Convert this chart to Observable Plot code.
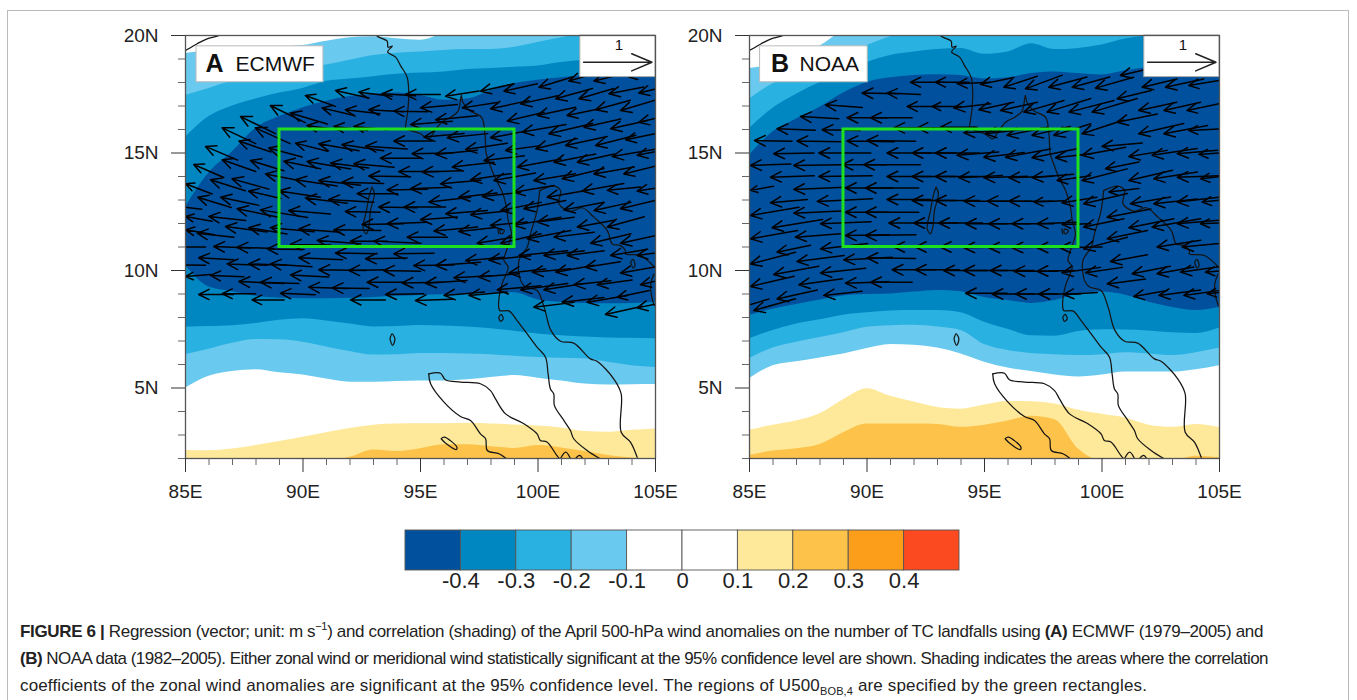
<!DOCTYPE html>
<html><head><meta charset="utf-8">
<script src="https://cdn.jsdelivr.net/npm/d3@7"></script>
<script src="https://cdn.jsdelivr.net/npm/@observablehq/plot@0.6"></script>
<style>
html,body{margin:0;padding:0;background:#fff;width:1357px;height:700px;overflow:hidden;font-family:"Liberation Sans",Arial,sans-serif}
#page{position:relative;width:1357px;height:700px}
#card{position:absolute;left:7px;top:10px;width:1342px;height:700px;border:1px solid #bbb;box-sizing:border-box}
.p{position:absolute}
.p svg{display:block;background:transparent}
.cap{position:absolute;left:20px;white-space:nowrap;font-size:17px;line-height:20px;color:#222}
.cap sup,.cap sub{font-size:11px;line-height:0}
</style></head><body><div id="page"><div id="card"></div>
<div id="pa" class="p" style="left:120px;top:25px"></div>
<div id="pb" class="p" style="left:684px;top:25px"></div>
<div id="cb" class="p" style="left:0;top:520px"></div>
<div class="cap" id="c1" style="top:622px"><b>FIGURE 6 |</b> Regression (vector; unit: m s<sup>−1</sup>) and correlation (shading) of the April 500-hPa wind anomalies on the number of TC landfalls using <b>(A)</b> ECMWF (1979–2005) and</div>
<div class="cap" id="c2" style="top:649px"><b>(B)</b> NOAA data (1982–2005). Either zonal wind or meridional wind statistically significant at the 95% confidence level are shown. Shading indicates the areas where the correlation</div>
<div class="cap" id="c3" style="top:676px">coefficients of the zonal wind anomalies are significant at the 95% confidence level. The regions of U500<sub>BOB,4</sub> are specified by the green rectangles.</div>
</div>
<script>
// ---- data ----
const lons = [85,86,87,88,89,90,91,92,93,94,95,96,97,98,99,100,101,102,103,104,105];
const boundsTicks = [-0.4,-0.3,-0.2,-0.1,0,0.1,0.2,0.3,0.4];
const barColors = ["#00509d","#0087c1","#29b1e1","#69c9ee","#ffffff","#ffffff","#fee899","#fdc24a","#fd9e1a","#fb4a20"];

// Panel A contour latitudes per longitude
const A_m1_up = [19.23,19.35,19.4,19.45,19.5,19.57,19.76,19.9,19.95,19.86,19.8,20.1,20.5,20.5,20.5,20.5,20.5,20.5,20.5,20.5,20.5];
const A_m1_lo = [5.0,5.5,5.7,5.78,5.65,5.55,5.38,5.25,5.25,5.28,5.3,5.3,5.35,5.45,5.53,5.42,5.3,5.17,5.13,5.14,5.15];
const A_m2_up = [17.45,17.75,18.05,18.2,18.4,18.6,18.75,18.95,19.15,19.25,19.3,19.36,19.4,19.4,19.5,19.7,19.9,20.1,20.3,20.3,20.3];
const A_m2_lo = [6.43,6.65,6.9,7.06,7.05,6.95,6.75,6.55,6.4,6.42,6.47,6.47,6.45,6.42,6.35,6.3,6.27,6.25,6.1,5.95,5.87];
const A_m3_up = [15.67,16.55,17.0,17.3,17.55,17.75,18.05,18.15,18.25,18.35,18.4,18.45,18.55,18.6,18.65,18.7,18.85,18.95,19,19,19];
const A_m3_lo = [7.59,7.62,7.65,7.75,7.88,7.95,7.85,7.72,7.6,7.62,7.66,7.64,7.6,7.52,7.42,7.3,7.22,7.17,7.13,7.12,7.1];
const A_m4_up = [12.7,14.15,15.05,16.05,16.55,16.93,17.2,17.4,17.5,17.55,17.45,17.25,17.3,17.65,17.95,18.1,18.2,18.3,18.35,18.4,18.4];
const A_m4_lo = [10.21,9.3,9.1,8.9,8.82,8.8,8.8,8.82,8.85,8.9,8.94,8.97,9.0,9.03,9.05,8.75,8.65,8.6,8.58,8.6,8.65];
const A_p1_up = [2.34,2.33,2.4,2.55,2.72,2.9,3.1,3.28,3.42,3.47,3.48,3.48,3.5,3.47,3.43,3.38,3.3,3.15,3.12,3.2,3.26];
const A_p2_up = [1.9,1.9,1.9,1.9,1.9,1.9,1.9,2.05,2.36,2.3,2.42,2.58,2.58,2.5,2.43,2.55,2.45,2.3,2.13,2.02,1.95];

// Panel B contour latitudes per longitude
const B_m1_up = [18.6,18.75,19.1,19.55,20.2,20.5,20.5,20.5,20.5,20.5,20.5,20.5,20.5,20.5,20.5,20.5,20.5,20.5,20.5,20.5,20.5];
const B_m1_lo = [5.4,5.95,6.12,6.28,6.45,6.68,6.85,6.82,6.7,6.45,6.1,5.85,5.7,5.55,5.47,5.55,5.68,5.68,5.68,5.78,5.95];
const B_m2_up = [17.3,17.95,18.35,18.75,19.15,19.57,19.95,20.2,20.4,20.5,20.5,20.5,20.5,20.5,20.5,20.5,20.5,20.5,20.5,20.5,20.5];
const B_m2_lo = [6.26,6.7,6.95,7.15,7.35,7.58,7.65,7.67,7.6,7.45,6.85,6.6,6.47,6.42,6.38,6.42,6.5,6.45,6.38,6.5,6.7];
const B_m3_up = [16.04,16.9,17.5,18.0,18.4,18.85,19.15,19.3,19.4,19.45,19.2,19.3,19.65,19.4,19.45,19.6,19.85,20,20.2,20.3,20.3];
const B_m3_lo = [7.1,7.45,7.72,7.9,8.1,8.2,8.28,8.3,8.3,8.2,7.8,7.5,7.22,7.2,7.4,7.48,7.47,7.43,7.35,7.32,7.55];
const B_m4_up = [14.9,15.9,16.45,16.95,17.55,18.0,18.2,18.3,18.33,18.3,18.15,18.2,18.38,18.45,18.38,18.32,18.5,18.65,18.8,18.9,18.9];
const B_m4_lo = [8.09,8.35,8.55,8.75,8.92,8.98,9.0,9.08,9.15,9.1,8.85,8.72,8.6,8.72,9.0,9.08,8.95,8.65,8.43,8.3,8.43];
const B_p1_up = [3.2,3.42,3.6,3.9,4.5,4.97,4.65,4.4,4.17,4.1,4.28,4.43,4.42,4.32,4.05,3.88,3.72,3.42,3.33,3.45,3.32];
const B_p2_up = [2.13,2.32,2.42,2.6,3.1,3.47,3.47,3.47,3.45,3.33,3.42,3.6,3.8,3.65,2.4,1.9,1.9,1.9,1.9,2.1,2.03];

// Coastlines [lon, lat]
const coastIndia = [[84.9,19.3],[85,19.36],[85.5,19.65],[85.92,19.86],[86.35,19.97],[86.6,20.1]];
const coastMyanmar = [[93.1,20.1],[93.16,19.97],[93.58,19.76],[93.62,19.5],[93.8,19.55],[93.6,19.3],[93.94,19.08],[94.15,18.72],[94.43,18.23],[94.5,17.52],[94.46,16.81],[94.36,16.1],[94.36,16.03],[94.57,15.96],[95,15.82],[95.35,15.6],[95.57,15.89],[95.9,16.31],[96.28,16.52],[96.6,16.78],[96.74,17.45],[96.8,17.16],[97.1,16.8],[97.6,16.52],[97.74,15.82],[97.8,14.96],[97.94,14.54],[98.16,13.97],[98.45,13.4],[98.66,12.7],[98.73,12.13],[98.87,11.56],[98.66,10.85],[98.55,10.43],[98.73,10.15],[98.47,9.43],[98.33,8.72],[98.37,8.3],[98.76,8.28],[99.11,7.87],[99.54,7.3],[99.96,6.74],[100.32,6.31],[100.43,5.6],[100.53,4.96],[100.67,4.75],[100.7,4.25],[101.1,3.62],[101.38,3.19],[101.52,2.84],[102.09,2.34],[102.66,1.98]];
const coastGulfWest = [[100.07,13.4],[99.96,12.55],[99.68,11.56],[99.54,10.99],[99.19,10.43],[99.26,9.57],[99.47,9.3],[99.96,9.15],[100.26,8.44],[100.55,7.45],[100.96,6.99],[101.52,6.91],[102.23,6.24],[102.51,6.14],[103.23,5.38],[103.54,4.75],[103.54,3.12],[103.94,2.69],[104.22,2.05]];
const coastGulfNorth = [[100.07,13.4],[100.67,13.59],[100.96,13.4],[100.89,12.84],[101.38,12.52],[101.88,12.67],[102.38,12.27],[102.95,11.7],[103.16,11.13],[103.51,11.06],[103.72,10.85],[103.72,10.71],[104.36,10.64],[104.96,10.14]];
const coastSumatraN = [[95.35,5.6],[95.85,5.63],[96.06,5.35],[96.7,5.25],[97.55,5.18],[97.98,4.89],[98.19,4.54],[98.62,3.9],[99.4,3.48],[99.96,3.05],[100.1,2.77],[100.38,2.7],[100.8,2.13],[100.95,1.95]];
const coastSumatraS = [[95.35,5.6],[95.43,5.18],[96.0,4.4],[96.7,3.79],[97.13,3.62],[97.55,3.05],[97.77,2.84],[97.84,2.34],[98.34,2.2],[98.67,1.98]];
const coastRightEdge = [[104.94,9.85],[104.8,9.43],[104.84,8.87],[104.95,8.51]];
const isle1 = [[100.96,2.0],[101.18,2.27],[101.38,2.0]];
const isle2 = [[101.6,2.0],[101.77,2.13],[101.9,2.0]];
const isle3 = [[95.88,2.84],[96.01,2.91],[96.55,2.48],[96.52,2.38],[96.06,2.66],[95.88,2.84]];
const isle4 = [[93.7,7.09],[93.79,7.3],[93.91,7.09],[93.81,6.81],[93.7,7.09]];
const isle5 = [[98.33,8.01],[98.43,8.13],[98.52,7.94],[98.4,7.84],[98.33,8.01]];
const isle6 = [[103.94,10.35],[104.04,10.47],[104.13,10.21],[104.05,10.11],[103.94,10.35]];
const andaman = [[92.94,13.55],[93.04,13.26],[92.87,12.55],[92.8,11.84],[92.7,11.56],[92.56,11.77],[92.7,12.55],[92.84,13.26],[92.94,13.55]];
const isle7 = [[98.29,11.77],[98.33,11.56]];
const isle8 = [[98.4,11.77],[98.57,11.7],[98.47,11.56],[98.38,11.63],[98.4,11.77]];
const coasts = [coastIndia,coastMyanmar,coastGulfWest,coastGulfNorth,coastSumatraN,coastSumatraS,coastRightEdge,isle1,isle2,isle3,isle4,isle5,isle6,andaman,isle7,isle8];

// Wind: [tip lon, tip lat, u (m/s), v (m/s)]
const windA = [
[91.38,17.66,-.49,.11],[92.37,17.59,-.49,.06],[93.36,17.52,-.49,.03],[94.36,17.49,-.51,0],[90.10,17.45,-.44,.16],[88.61,17.02,-.51,.25],[89.46,16.70,-.54,.16],[90.81,16.92,-.47,.11],[91.80,16.84,-.51,.06],[92.80,16.84,-.51,.03],[93.86,16.78,-.50,.01],[87.34,16.55,-.51,.25],[87.97,16.07,-.51,.23],[90.17,16.17,-.49,.07],[91.31,16.13,-.49,.06],[92.16,16.13,-.49,.05],[86.56,16.07,-.49,.23],[87.27,15.51,-.47,.16],[88.54,15.21,-.49,.13],[89.68,15.42,-.47,.12],[90.67,15.39,-.59,.10],[91.66,15.36,-.61,.09],[92.66,15.29,-.61,.04],[93.86,15.51,-.56,0],
[85.85,15.28,-.47,.20],[86.56,14.71,-.49,.17],[87.76,14.68,-.49,.15],[89.18,14.65,-.54,.11],[90.17,14.64,-.64,.11],[91.17,14.57,-.56,.07],[92.16,14.54,-.59,.05],[93.29,14.78,-.59,0],[94.64,14.97,-.59,-.01],[85.35,14.51,-.44,.19],[86.06,13.86,-.51,.16],[86.98,13.90,-.54,.15],[88.40,14.11,-.51,.10],[89.68,13.86,-.61,.09],[90.67,13.83,-.61,.07],[91.66,13.76,-.61,.02],[92.80,14.02,-.61,.01],[94.07,14.21,-.59,0],
[85.0,13.69,-.39,.15],[85.52,13.12,-.49,.15],[86.49,13.12,-.56,.12],[87.69,13.38,-.47,.11],[88.97,13.38,-.61,.09],[90.10,13.09,-.61,.08],[91.09,13.02,-.66,.04],[92.30,13.27,-.59,0],[93.58,13.43,-.59,-.01],[94.57,13.48,-.59,-.02],[84.3,12.78,-.48,.06],[85.0,12.30,-.39,.07],[85.99,12.30,-.54,.06],[87.19,12.63,-.59,.12],[88.19,12.58,-.69,.11],[89.39,12.55,-.61,.05],[91.80,12.51,-.51,.01],[93.22,12.70,-.56,.01],[94.29,12.70,-.61,0],
[85.0,11.73,-.42,.07],[85.49,11.59,-.54,.06],[86.70,11.87,-.61,.08],[87.69,11.82,-.56,.09],[88.61,11.82,-.64,.06],[89.82,11.77,-.61,.05],[91.31,11.73,-.69,.01],[92.51,11.96,-.61,-.01],[93.58,11.99,-.59,-.02],[84.4,11.0,-.5,0],[86.20,11.02,-.54,.02],[87.19,10.99,-.54,.02],[88.47,10.92,-.54,.01],[89.46,11.11,-.59,.01],[90.60,11.28,-.64,.05],[92.02,11.25,-.54,0],[93.01,11.25,-.69,.03],[94.43,11.42,-.59,0],
[85.56,10.54,-.51,.03],[86.77,10.28,-.59,.02],[87.69,10.28,-.56,.02],[88.61,10.28,-.61,.04],[89.82,10.54,-.64,.03],[91.38,10.74,-.61,.01],[92.66,10.50,-.61,-.01],[93.86,10.71,-.59,-.01],[84.4,10.25,-.5,.01],[85.0,9.74,-.37,-.03],[86.06,9.79,-.49,.02],[87.27,9.53,-.66,.03],[88.19,9.50,-.56,.02],[89.46,9.81,-.56,.03],[90.67,10.03,-.69,.01],[91.95,10.0,-.56,-.01],[93.43,10.0,-.54,.01],[94.71,10.21,-.59,-.01],[85.56,8.98,-.51,0],[86.56,9.01,-.49,0],[89.04,9.03,-.51,.02],[90.24,9.29,-.56,.02],[91.24,9.26,-.54,.01],[92.73,9.50,-.56,0],[94.22,9.47,-.59,-.01],[87.83,8.75,-.47,0],[92.02,8.75,-.51,0],[93.51,8.98,-.56,-.01],[94.78,8.72,-.54,-.02],
[96.07,17.41,-.49,-.08],[97.56,17.63,-.49,-.11],[98.55,17.63,-.49,-.11],[100.04,17.80,-.49,-.15],[101.31,18.06,-.49,-.14],[102.38,18.06,-.49,-.12],[103.87,18.23,-.39,-.07],[95.0,16.92,-.54,-.05],[96.78,16.92,-.51,-.08],[97.98,16.88,-.56,-.12],[99.26,17.09,-.54,-.12],[100.75,17.31,-.54,-.15],[101.74,17.31,-.51,-.15],[103.02,17.52,-.51,-.10],[104.29,17.55,-.49,-.12],[95.64,16.41,-.61,-.06],[94.58,16.21,-.61,-.05],[98.69,16.36,-.54,-.13],[99.97,16.60,-.56,-.12],[101.24,16.60,-.49,-.10],[102.45,16.84,-.51,-.14],[103.51,16.81,-.51,-.15],[95.14,15.68,-.59,-.05],[96.14,15.65,-.59,-.06],[97.98,15.65,-.49,-.09],[99.33,15.89,-.64,-.11],[100.46,15.82,-.64,-.15],[101.95,16.10,-.54,-.12],[103.09,16.03,-.54,-.12],[104.29,16.31,-.49,-.11],
[95.64,14.94,-.61,-.06],[96.92,15.15,-.61,-.09],[98.62,15.11,-.51,-.07],[99.90,15.18,-.61,-.15],[101.17,15.32,-.61,-.13],[102.45,15.32,-.59,-.15],[103.73,15.56,-.49,-.10],[95.07,14.19,-.59,-.02],[96.35,14.40,-.61,-.07],[97.70,14.68,-.59,-.07],[99.12,14.40,-.64,-.12],[100.68,14.61,-.61,-.12],[101.67,14.61,-.54,-.12],[103.16,14.85,-.64,-.11],[104.22,14.90,-.49,-.10],[95.85,13.69,-.59,-.05],[97.13,13.86,-.59,-.09],[98.12,13.83,-.61,-.11],[99.82,13.83,-.61,-.10],[101.03,13.90,-.61,-.15],[102.38,14.11,-.59,-.10],[103.65,14.11,-.49,-.12],
[95.36,12.91,-.61,-.07],[96.63,13.12,-.56,-.06],[97.63,13.15,-.56,-.06],[98.97,13.33,-.59,-.10],[100.39,13.12,-.59,-.10],[101.88,13.38,-.61,-.11],[102.95,13.41,-.49,-.05],[104.22,13.38,-.49,-.08],[95.0,12.16,-.54,-.04],[96.07,12.41,-.61,-.05],[97.13,12.37,-.56,-.06],[98.41,12.55,-.59,-.12],[99.40,12.63,-.61,-.12],[101.10,12.58,-.59,-.11],[102.38,12.55,-.54,-.12],[103.51,12.63,-.51,-.12],[95.57,11.68,-.64,-.06],[96.63,11.66,-.54,-.06],[97.98,11.92,-.54,-.05],[98.97,11.92,-.69,-.12],[99.97,12.06,-.54,-.07],[101.67,11.85,-.54,-.10],[102.95,11.85,-.54,-.15],[97.41,11.16,-.54,-.09],[98.41,11.16,-.59,-.14],[99.54,11.35,-.64,-.12],[100.68,11.42,-.59,-.07],[102.24,11.16,-.59,-.14],[103.51,11.16,-.51,-.11],
[95.64,10.21,-.66,-.05],[96.92,10.42,-.56,-.05],[97.91,10.45,-.61,-.06],[99.19,10.64,-.71,-.07],[100.25,10.64,-.59,-.07],[101.24,10.64,-.54,-.07],[103.09,10.64,-.54,-.09],[104.22,10.64,-.49,-.07],[95.21,9.46,-.61,-.04],[96.42,9.69,-.54,-.03],[97.48,9.72,-.59,-.05],[98.76,9.89,-.54,-.06],[99.75,9.93,-.56,-.05],[100.75,9.93,-.56,-.10],[102.02,10.14,-.51,-.08],[103.51,9.89,-.51,-.09],[96.0,8.94,-.59,-.05],[97.06,8.94,-.56,-.05],[98.26,9.18,-.64,-.06],[99.26,9.18,-.69,-.09],[100.25,9.18,-.59,-.09],[101.53,9.39,-.54,-.06],[102.52,9.39,-.51,-.07],[104.36,9.39,-.49,-.12],[99.82,8.44,-.59,-.07],[101.03,8.65,-.61,-.07],[102.09,8.65,-.59,-.10],[103.37,8.86,-.47,-.10],[102.87,8.13,-.54,-.12],[104.22,8.41,-.49,-.10]];

const windB = [
[91.85,18.01,-.49,0],[92.91,18.01,-.49,0],[89.79,17.55,-.54,.01],[90.85,17.55,-.49,.02],[88.23,17.05,-.54,.04],[91.71,16.98,-.49,0],[92.77,16.98,-.42,0],[87.17,16.55,-.56,.03],[89.15,16.50,-.59,0],[90.15,16.50,-.61,0],[86.17,16.03,-.56,.02],[88.09,15.99,-.56,.01],[91.14,16.07,-.54,0],[92.13,16.07,-.54,0],[93.12,16.10,-.54,0],[85.21,15.53,-.55,.01],[87.02,15.51,-.64,.01],[89.15,15.51,-.69,.01],[90.0,15.53,-.71,.01],
[86.03,14.97,-.59,-.01],[87.95,15.0,-.76,0],[90.85,15.0,-.64,0],[91.92,15.0,-.64,0],[92.91,15.0,-.64,0],[85.04,14.47,-.59,-.02],[86.88,14.47,-.69,-.01],[88.94,14.50,-.64,0],[89.86,14.50,-.83,0],[85.89,13.97,-.64,-.02],[87.95,14.0,-.78,-.01],[90.85,14.0,-.64,0],[91.92,14.0,-.64,0],[92.91,14.0,-.64,0],[85.04,13.41,-.34,-.06],[86.88,13.45,-.74,-.03],[89.08,13.51,-.69,0],[89.93,13.51,-.78,0],[85.89,12.88,-.54,-.05],[87.88,12.94,-.81,-.04],[90.85,13.02,-.64,0],[91.92,12.98,-.64,0],[92.91,12.98,-.64,0],
[85.04,12.34,-.71,-.12],[86.88,12.44,-.69,-.03],[89.08,12.48,-.64,0],[89.93,12.48,-.78,0],[85.96,11.82,-.74,-.12],[88.02,11.99,-.74,-.03],[90.93,12.02,-.64,0],[91.99,12.02,-.64,0],[93.05,12.02,-.64,0],[85.04,11.35,-.69,-.12],[86.95,11.42,-.66,-.05],[89.08,11.49,-.64,-.01],[89.93,11.49,-.74,-.01],[88.02,10.92,-.69,-.08],[91.14,11.0,-.64,0],[92.06,11.0,-.64,0],[93.12,11.0,-.64,0],
[85.04,10.28,-.66,-.17],[86.17,10.78,-.49,-.10],[87.02,10.38,-.69,-.09],[89.01,10.45,-.71,-.04],[90.0,10.54,-.71,.01],[91.07,10.03,-.64,0],[92.06,10.03,-.64,0],[93.26,10.0,-.64,0],[86.03,9.83,-.66,-.12],[85.04,9.32,-.64,-.15],[88.02,9.89,-.66,-.07],[87.10,9.39,-.64,-.09],[89.08,9.46,-.64,-.02],[90.15,9.50,-.61,0],[88.16,8.94,-.56,-.06],[86.17,8.79,-.59,-.13],[84.37,8.35,-.5,-.15],[85.18,8.30,-.61,-.17],
[93.83,17.95,-.49,-.02],[94.83,17.92,-.49,-.10],[95.82,17.80,-.49,-.16],[96.74,17.73,-.54,-.20],[97.73,17.80,-.56,-.15],[98.73,17.80,-.55,-.15],[99.72,17.76,-.56,-.16],[100.78,18.30,-.51,-.12],[101.71,17.80,-.51,-.12],[102.70,17.80,-.56,-.12],[103.69,17.87,-.47,-.08],
[93.69,16.92,-.54,-.06],[94.76,16.84,-.51,-.11],[95.68,16.81,-.54,-.12],[96.67,16.74,-.59,-.17],[97.66,16.74,-.64,-.20],[98.59,16.74,-.66,-.17],[99.58,16.74,-.66,-.20],[100.64,17.31,-.5,-.12],[101.56,16.81,-.56,-.12],[102.63,16.81,-.54,-.12],[103.62,16.81,-.47,-.10],
[94.12,15.86,-.54,-.03],[95.04,15.82,-.61,-.07],[95.96,15.75,-.59,-.12],[97.02,15.75,-.56,-.13],[97.95,15.75,-.54,-.17],[99.15,15.82,-.61,-.20],[100.64,16.31,-.59,-.12],[101.56,15.82,-.66,-.15],[102.63,15.82,-.64,-.12],[103.69,15.96,-.44,-.02],
[93.83,14.90,-.61,-.05],[94.97,14.82,-.59,-.07],[95.89,14.82,-.66,-.12],[97.02,14.80,-.66,-.13],[98.02,14.80,-.54,-.06],[99.15,14.90,-.64,-.12],[100.0,15.28,-.59,-.05],[101.14,14.85,-.56,-.09],[102.13,14.90,-.66,-.10],[103.2,14.97,-.59,-.05],[104.12,14.94,-.44,-.03],
[93.90,13.95,-.64,-.03],[94.97,13.95,-.64,-.02],[96.03,13.95,-.64,-.02],[97.02,13.95,-.61,-.05],[98.09,13.83,-.49,-.07],[99.15,13.83,-.66,-.17],[100.15,14.33,-.49,-.10],[101.14,13.83,-.64,-.15],[102.2,13.90,-.64,-.10],[103.2,13.97,-.61,-.02],[104.19,13.90,-.44,-.05],
[94.12,12.95,-.64,0],[95.11,12.95,-.64,0],[96.03,12.95,-.64,0],[97.1,12.91,-.44,-.02],[98.3,12.88,-.51,-.08],[99.22,12.84,-.64,-.15],[100.29,13.34,-.44,-.05],[101.21,12.84,-.59,-.10],[102.2,12.84,-.64,-.07],[103.2,12.91,-.61,-.07],[104.26,12.91,-.44,-.05],
[94.19,11.99,-.61,0],[95.18,11.99,-.61,0],[96.17,11.99,-.61,0],[97.24,11.99,-.59,-.02],[98.3,11.96,-.42,-.01],[99.22,11.85,-.59,-.12],[100.22,12.27,-.64,-.12],[101.14,11.82,-.66,-.13],[102.13,11.85,-.71,-.12],[103.2,11.99,-.61,-.05],[104.19,11.99,-.44,-.02],
[94.12,10.97,-.62,-.01],[95.18,10.97,-.62,-.01],[96.17,10.97,-.62,-.01],[97.24,10.97,-.62,-.01],[98.2,10.97,-.62,-.01],[99.22,10.92,-.64,-.17],[100.22,11.35,-.59,-.12],[102.34,11.0,-.64,-.10],[103.41,11.0,-.54,-.05],
[94.12,10.0,-.64,0],[95.25,10.0,-.64,0],[96.25,9.97,-.64,0],[97.24,9.97,-.54,-.01],[98.3,9.9,-.56,-.08],[99.3,9.9,-.54,-.08],[100.36,10.38,-.54,-.10],[101.28,9.86,-.56,-.11],[102.34,9.86,-.54,-.10],[103.34,9.93,-.56,-.08],[104.4,9.93,-.44,-.04],
[94.19,9.03,-.61,0],[95.32,9.0,-.61,0],[96.32,9.0,-.61,0],[97.31,9.0,-.61,0],[98.37,8.98,-.49,-.03],[100.22,9.43,-.56,-.07],[101.35,8.89,-.49,-.09],[102.42,8.94,-.61,-.08],[103.48,8.94,-.51,-.07],[104.47,9.01,-.44,-.05]];

const majorLon = [85,90,95,100,105];
const minorLon = [86,87,88,89,91,92,93,94,96,97,98,99,101,102,103,104];
const majorLat = [5,10,15,20];
const minorLat = [2,3,4,6,7,8,9,11,12,13,14,16,17,18,19];

// ---- drawing ----
const DEG_PER_MS = 2.91;
const BLUE = [barColors[3],barColors[2],barColors[1],barColors[0]];
function band(lo,up,fill){return Plot.area(lons,{x1:lons,y1:lo,y2:up,fill,curve:"monotone-x",clip:true});}
function panel(sel,cfg){
  const marks=[
    band(cfg.m1[0],cfg.m1[1],BLUE[0]),
    band(cfg.m2[0],cfg.m2[1],BLUE[1]),
    band(cfg.m3[0],cfg.m3[1],BLUE[2]),
    band(cfg.m4[0],cfg.m4[1],BLUE[3]),
    band(lons.map(()=>1.5),cfg.p1,barColors[6]),
    band(lons.map(()=>1.5),cfg.p2,barColors[7]),
    ...coasts.map(c=>Plot.line(c,{x:d=>d[0],y:d=>d[1],stroke:"#151515",strokeWidth:1.25,curve:"catmull-rom",clip:true})),
    Plot.arrow(cfg.wind,{x1:d=>d[0]-d[2]*DEG_PER_MS,y1:d=>d[1]-d[3]*DEG_PER_MS,x2:d=>d[0],y2:d=>d[1],stroke:"#000",strokeWidth:1.5,headLength:12,headAngle:52,clip:true}),
    Plot.rect([[89,99,11,16]],{x1:d=>d[0],x2:d=>d[1],y1:d=>d[2],y2:d=>d[3],stroke:"#1fe01f",strokeWidth:3,fill:"none"}),
    Plot.rect([[cfg.boxL,cfg.boxR,18.01,19.54]],{x1:d=>d[0],x2:d=>d[1],y1:d=>d[2],y2:d=>d[3],fill:"#fff",stroke:"#bbb",strokeWidth:1}),
    Plot.text([cfg.letter],{x:cfg.letterLon,y:18.79,text:d=>d,textAnchor:"start",fontSize:25,fontWeight:"bold",fill:"#111"}),
    Plot.text([cfg.name],{x:87.13,y:18.79,text:d=>d,textAnchor:"start",fontSize:21,fill:"#111"}),
    Plot.rect([[101.8,105,18.23,20]],{x1:d=>d[0],x2:d=>d[1],y1:d=>d[2],y2:d=>d[3],fill:"#fff",stroke:"#aaa",strokeWidth:1}),
    Plot.text(["1"],{x:103.44,y:19.57,text:d=>d,fontSize:15,fill:"#111"}),
    Plot.arrow([[1,0]],{x1:101.94,y1:18.86,x2:101.94+DEG_PER_MS,y2:18.86,stroke:"#222",strokeWidth:1.5,headLength:22,headAngle:46}),
    Plot.frame({stroke:"#555",strokeWidth:1.3}),
    Plot.axisX({ticks:minorLon,tickSize:7,tickFormat:()=>"",stroke:"#666"}),
    Plot.axisX({ticks:majorLon,tickSize:14,tickPadding:12,tickFormat:d=>d+"E",fontSize:19,stroke:"#333",fill:"#222"}),
    Plot.axisY({ticks:minorLat,tickSize:7,tickFormat:()=>"",stroke:"#666"}),
    Plot.axisY({ticks:majorLat,tickSize:14,tickPadding:13,tickFormat:d=>d+"N",fontSize:19,stroke:"#333",fill:"#222"})
  ];
  const svg=Plot.plot({width:545,height:483,marginLeft:65,marginRight:10,marginTop:10,marginBottom:50,
    x:{domain:[85,105]},y:{domain:[2,20]},style:{fontFamily:"'Liberation Sans',Arial,sans-serif",background:"transparent",overflow:"visible"},marks});
  document.querySelector(sel).append(svg);
}
panel("#pa",{m1:[A_m1_lo,A_m1_up],m2:[A_m2_lo,A_m2_up],m3:[A_m3_lo,A_m3_up],m4:[A_m4_lo,A_m4_up],p1:A_p1_up,p2:A_p2_up,wind:windA,boxL:85.47,boxR:90.87,letter:"A",letterLon:85.85,name:"ECMWF"});
panel("#pb",{m1:[B_m1_lo,B_m1_up],m2:[B_m2_lo,B_m2_up],m3:[B_m3_lo,B_m3_up],m4:[B_m4_lo,B_m4_up],p1:B_p1_up,p2:B_p2_up,wind:windB,boxL:85.45,boxR:90.03,letter:"B",letterLon:85.92,name:"NOAA"});

// colour bar
const cellEdges=[-0.5,...boundsTicks,0.5];
const cells=barColors.map((c,i)=>({x1:cellEdges[i],x2:cellEdges[i+1],c}));
document.querySelector("#cb").append(Plot.plot({width:1357,height:80,marginLeft:405,marginRight:398,marginTop:10,marginBottom:30,
  x:{domain:[-0.5,0.5]},y:{domain:[0,1],axis:null},style:{fontFamily:"'Liberation Sans',Arial,sans-serif",background:"transparent"},
  marks:[
    Plot.rect(cells,{x1:"x1",x2:"x2",y1:()=>0,y2:()=>1,fill:d=>d.c,stroke:"#555",strokeWidth:0.9}),
    Plot.axisX({ticks:boundsTicks,tickSize:0,tickPadding:2,tickFormat:d=>d===0?"0":String(d),fontSize:22,fill:"#222"})
  ]}));

// fit caption lines to the reference widths
const capEnd={c1:1263,c2:1268,c3:1147};
for(const id in capEnd){
  const el=document.getElementById(id);
  el.style.display="inline-block";
  const w=el.getBoundingClientRect().width;
  const n=el.textContent.length;
  el.style.letterSpacing=((capEnd[id]-20-w)/n)+"px";
}
</script></body></html>
